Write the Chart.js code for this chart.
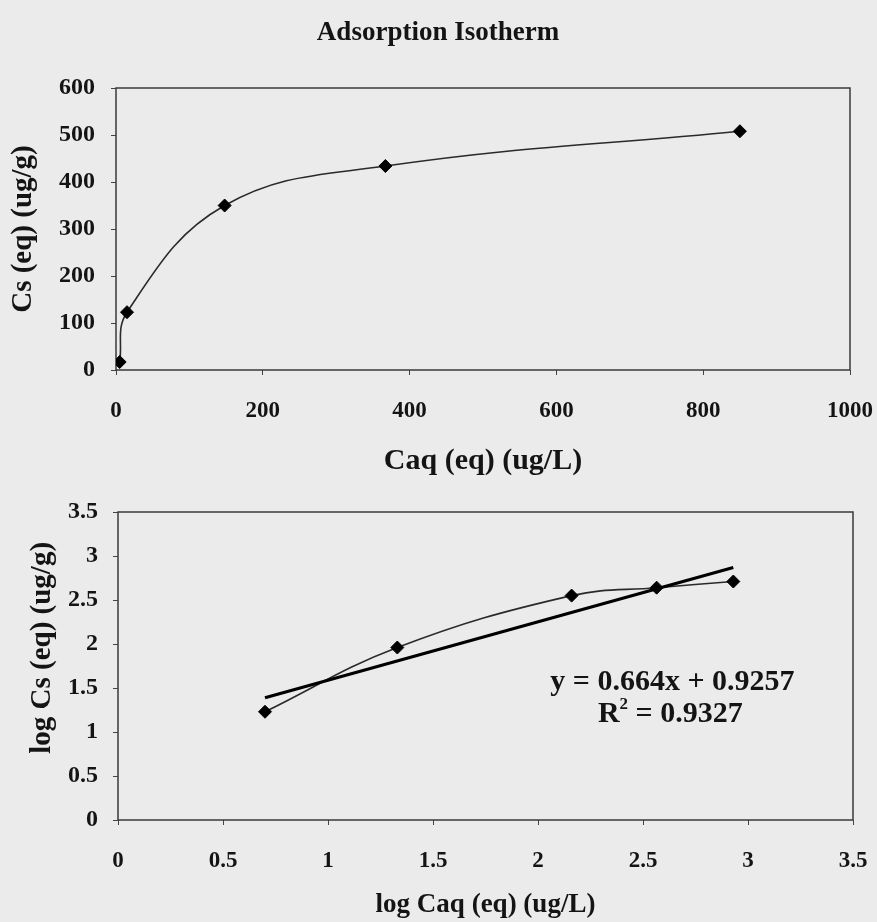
<!DOCTYPE html>
<html><head><meta charset="utf-8">
<script src="https://cdn.jsdelivr.net/npm/chart.js@4.4.0/dist/chart.umd.min.js"></script>
<style>
html,body{margin:0;padding:0;background:#ebebeb;}
#w1{position:absolute;left:0;top:0;width:877px;height:480px;}
#w2{position:absolute;left:0;top:480px;width:877px;height:442px;}
</style></head><body>
<div id="w1"><canvas id="c1"></canvas></div>
<div id="w2"><canvas id="c2"></canvas></div>
<script>
// ---- data ----
const caq = [5, 15, 148, 367, 850];
const cs = [17, 123, 350, 434, 508];
const logCaq = [0.70, 1.33, 2.16, 2.565, 2.93];
const logCs = [1.23, 1.96, 2.55, 2.64, 2.71];
const trendX = [0.70, 2.93];
const trendY = [1.39, 2.87];
const xTicks1 = [0, 200, 400, 600, 800, 1000];
const yTicks1 = [0, 100, 200, 300, 400, 500, 600];
const xTicks2 = [0, 0.5, 1, 1.5, 2, 2.5, 3, 3.5];
const yTicks2 = [0, 0.5, 1, 1.5, 2, 2.5, 3, 3.5];
const eqText = 'y = 0.664x + 0.9257';
const r2Text = '0.9327';

const FAM = "'Liberation Serif', 'Times New Roman', serif";
const INK = '#141414';

const pts = (xs, ys) => xs.map((x, i) => ({x: x, y: ys[i]}));

const framePlugin = {
  id: 'frame',
  beforeDatasetsDraw(chart) {
    const a = chart.chartArea, ctx = chart.ctx;
    ctx.save();
    ctx.strokeStyle = '#3a3a3a';
    ctx.lineWidth = 1.5;
    ctx.strokeRect(a.left, a.top, a.right - a.left, a.bottom - a.top);
    ctx.restore();
  }
};

function axis(ticksArr, min, max, title, opts) {
  return {
    type: 'linear', min: min, max: max,
    afterBuildTicks: s => { s.ticks = ticksArr.map(v => ({value: v})); },
    afterFit: s => {
      if (opts.w !== undefined) s.width = opts.w;
      if (opts.h !== undefined) { s.height = opts.h; s.paddingLeft = 0; s.paddingRight = opts.pr; }
    },
    border: {display: false},
    grid: {display: true, drawOnChartArea: false, drawTicks: true, tickLength: 5, color: '#444', lineWidth: 1},
    ticks: {color: INK, font: {family: FAM, size: opts.fs, weight: 'bold'}, padding: opts.tp, callback: v => String(v), maxRotation: 0, autoSkip: false},
    title: {display: true, text: title, color: INK, font: {family: FAM, size: opts.ts, weight: 'bold'}, padding: opts.titlePad}
  };
}

new Chart(document.getElementById('c1'), {
  type: 'scatter',
  data: {datasets: [{
    data: pts(caq, cs), showLine: true, tension: 0.4,
    borderColor: '#2a2a2a', borderWidth: 1.6,
    pointStyle: 'rectRot', pointRadius: 6.5, pointBackgroundColor: '#000', pointBorderColor: '#000', pointBorderWidth: 1
  }]},
  options: {
    responsive: true, maintainAspectRatio: false, animation: false,
    layout: {padding: {left: 0, right: 1, top: 0, bottom: 0}, autoPadding: false},
    plugins: {
      legend: {display: false}, tooltip: {enabled: false},
      title: {display: true, text: 'Adsorption Isotherm', color: INK, font: {family: FAM, size: 27, weight: 'bold'}, padding: {top: 17, bottom: 38.6}}
    },
    scales: {
      x: axis(xTicks1, 0, 1000, 'Caq (eq) (ug/L)', {h: 110, pr: 27, tp: 22, fs: 23, ts: 30, titlePad: {top: 0, bottom: 1}}),
      y: axis(yTicks1, 0, 600, 'Cs (eq) (ug/g)', {w: 116, tp: 16, fs: 24, ts: 29, titlePad: {top: 6, bottom: 0}})
    }
  },
  plugins: [framePlugin]
});

const eqPlugin = {
  id: 'eq',
  afterDatasetsDraw(chart) {
    const ctx = chart.ctx, sx = chart.scales.x, sy = chart.scales.y;
    const cx1 = sx.getPixelForValue(2.64);
    const cx2 = sx.getPixelForValue(2.63);
    const y1 = sy.getPixelForValue(1.56);
    const y2 = sy.getPixelForValue(1.2);
    ctx.save();
    ctx.fillStyle = INK;
    ctx.textBaseline = 'middle';
    ctx.font = 'bold 30px ' + FAM;
    ctx.textAlign = 'center';
    ctx.fillText(eqText, cx1, y1);
    ctx.textAlign = 'left';
    const wR = ctx.measureText('R').width;
    const rest = ' = ' + r2Text;
    const wRest = ctx.measureText(rest).width;
    ctx.font = 'bold 17px ' + FAM;
    const w2 = ctx.measureText('2').width;
    const start = cx2 - (wR + w2 + wRest) / 2;
    ctx.font = 'bold 30px ' + FAM;
    ctx.fillText('R', start, y2);
    ctx.fillText(rest, start + wR + w2, y2);
    ctx.font = 'bold 17px ' + FAM;
    ctx.fillText('2', start + wR, y2 - 10);
    ctx.restore();
  }
};

new Chart(document.getElementById('c2'), {
  type: 'scatter',
  data: {datasets: [
    {
      data: pts(logCaq, logCs), showLine: true, tension: 0.4, order: 1,
      borderColor: '#2a2a2a', borderWidth: 1.6,
      pointStyle: 'rectRot', pointRadius: 6.5, pointBackgroundColor: '#000', pointBorderColor: '#000', pointBorderWidth: 1
    },
    {
      data: pts(trendX, trendY), showLine: true, tension: 0, order: 0,
      borderColor: '#000', borderWidth: 3.2, pointRadius: 0
    }
  ]},
  options: {
    responsive: true, maintainAspectRatio: false, animation: false,
    layout: {padding: {left: 0, right: 1, top: 32, bottom: 0}, autoPadding: false},
    plugins: {legend: {display: false}, tooltip: {enabled: false}, title: {display: false}},
    scales: {
      x: axis(xTicks2, 0, 3.5, 'log Caq (eq) (ug/L)', {h: 102, pr: 24, tp: 22, fs: 23, ts: 27, titlePad: {top: 0, bottom: 1}}),
      y: axis(yTicks2, 0, 3.5, '     log Cs (eq) (ug/g)', {w: 118, tp: 15, fs: 24, ts: 29, titlePad: {top: 25, bottom: 0}})
    }
  },
  plugins: [framePlugin, eqPlugin]
});
</script>
</body></html>
